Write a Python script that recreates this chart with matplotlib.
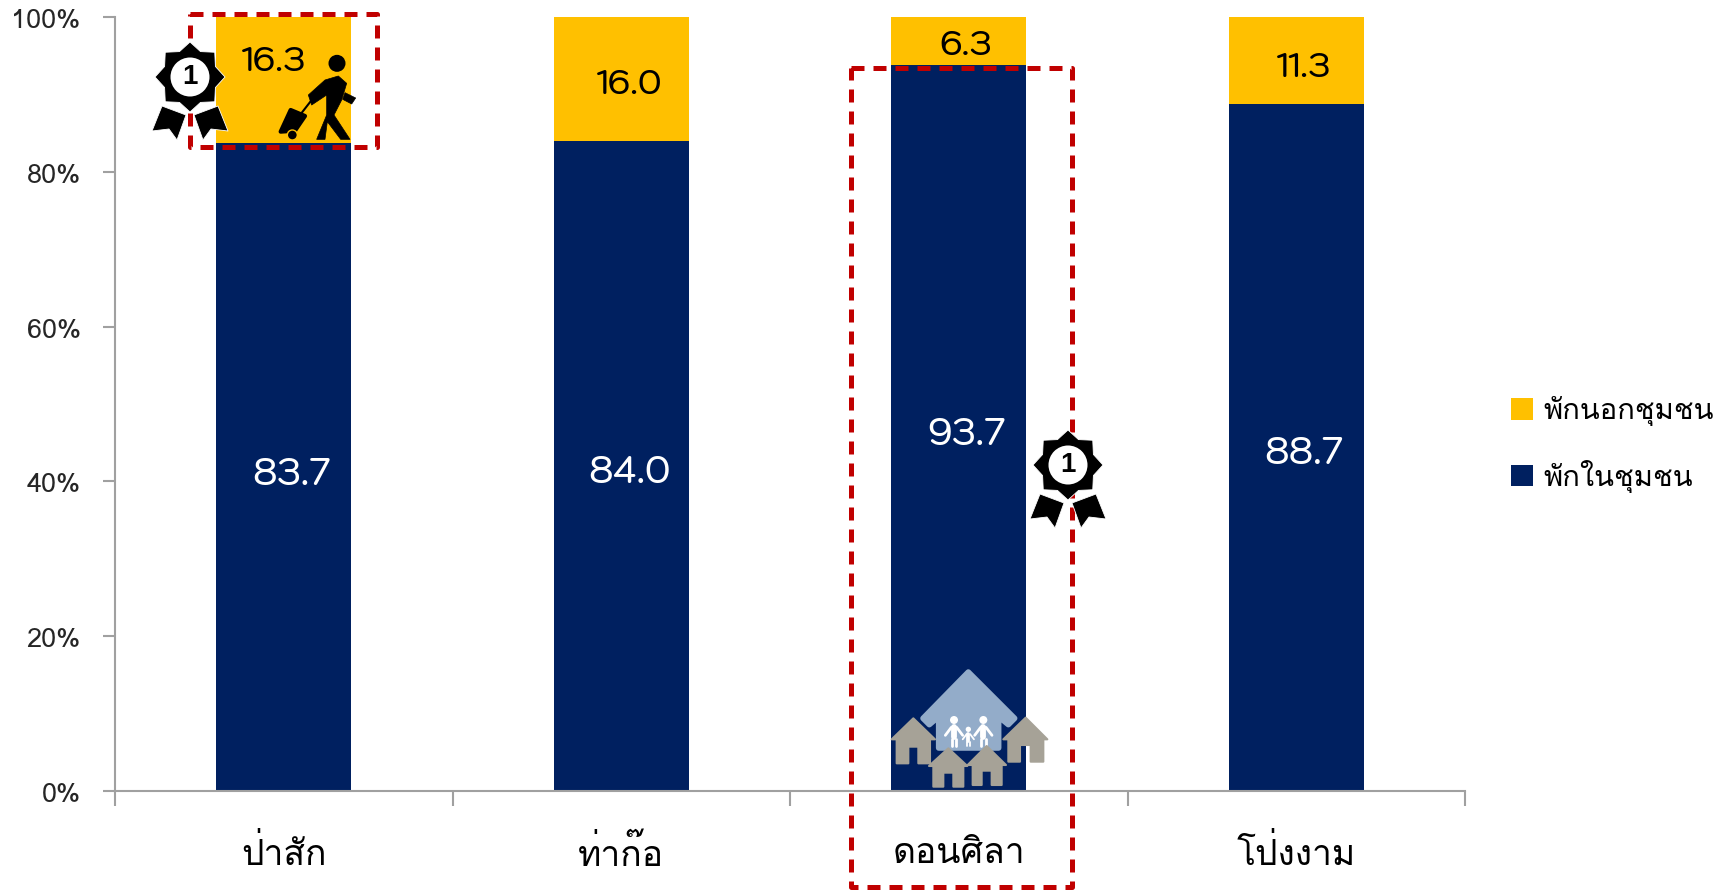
import matplotlib
matplotlib.use("Agg")
from matplotlib import pyplot as plt
from matplotlib.patches import Polygon, Circle, Rectangle
from matplotlib.transforms import ScaledTranslation
import numpy as np

W, H = 1735, 891

categories = ["ป่าสัก", "ท่าก๊อ", "ดอนศิลา", "โป่งงาม"]
inside = [83.7, 84.0, 93.7, 88.7]
outside = [16.3, 16.0, 6.3, 11.3]
series_names = ["พักในชุมชน", "พักนอกชุมชน"]
ytick_values = [0, 20, 40, 60, 80, 100]
ytick_labels = ["0%", "20%", "40%", "60%", "80%", "100%"]

# labels were moved by hand in the original, so they are not centred
inside_label_dx = [0.024, 0.024, 0.024, 0.024]
inside_label_y = [40.7, 40.9, 45.9, 43.4]
outside_label_dx = [-0.03, 0.022, 0.021, 0.021]
outside_label_y = [94.0, 91.0, 96.1, 93.2]

NAVY = "#002060"
YELLOW = "#FFC000"
RED = "#C00000"
GREY = "#A6A297"
BLUE = "#93ACC9"
AXIS = "#A0A0A0"
THAI = ["Loma", "DejaVu Sans"]
DIGITS = ["Kodchasan", "DejaVu Sans"]

plt.rcParams["font.family"] = THAI

fig = plt.figure(figsize=(W / 100, H / 100), dpi=100)
ax = fig.add_axes([115 / W, 1 - 791.3 / H, 1350 / W, (791.3 - 16.7) / H])

x = np.arange(len(categories))
ax.bar(x, inside, width=0.4, color=NAVY, label=series_names[0], zorder=2)
ax.bar(x, outside, width=0.4, bottom=inside, color=YELLOW, label=series_names[1], zorder=2)
ax.set_xlim(-0.5, 3.5)
ax.set_ylim(0, 100)

for i in range(len(categories)):
    ax.text(i + inside_label_dx[i], inside_label_y[i], f"{inside[i]:.1f}", color="white",
            ha="center", va="center", fontsize=26.5, fontweight="medium", family=DIGITS, zorder=3)
    ax.text(i + outside_label_dx[i], outside_label_y[i], f"{outside[i]:.1f}", color="black",
            ha="center", va="center", fontsize=24.5, fontweight="medium", family=DIGITS, zorder=3)

ax.set_yticks(ytick_values)
ax.set_yticklabels(ytick_labels, fontsize=19.5, color="#262626", va="center")
ax.set_xticks(np.arange(-0.5, 4, 1))
ax.set_xticklabels([])
ax.tick_params(axis="y", length=8.6, width=1.5, color=AXIS, pad=16)
ax.tick_params(axis="x", length=11, width=1.5, color=AXIS)
shift = ScaledTranslation(0, -2.9 / 72, fig.dpi_scale_trans)
for lab in ax.get_yticklabels():
    lab.set_transform(lab.get_transform() + shift)
for i, c in enumerate(categories):
    ax.annotate(c, (i, 0), xytext=(0, -45), textcoords="offset points", ha="center", va="center",
                fontsize=25.5, color="black", annotation_clip=False)
for s in ["top", "right"]:
    ax.spines[s].set_visible(False)
for s in ["left", "bottom"]:
    ax.spines[s].set_color(AXIS)
    ax.spines[s].set_linewidth(1.5)

handles, labels = ax.get_legend_handles_labels()
ax.legend(handles[::-1], labels[::-1], loc="center left", bbox_to_anchor=(1.034, 0.448),
          frameon=False, fontsize=21, handlelength=0.75, handleheight=0.75, handletextpad=0.36,
          labelspacing=1.15, borderpad=0, borderaxespad=0)

# overlay in picture pixels for the dashed boxes and the pictograms
ov = fig.add_axes([0, 0, 1, 1])
ov.set_xlim(0, W)
ov.set_ylim(H, 0)
ov.axis("off")
ov.patch.set_alpha(0)


def crop_pts(pts, x0, y0):
    return [(x0 + a / 3, y0 + b / 3) for a, b in pts]


def poly(pts, color, z=5, lw=0, edge=None):
    ov.add_patch(Polygon(pts, closed=True, facecolor=color, edgecolor=edge or color, linewidth=lw,
                         joinstyle="round", zorder=z))


def stroke(pts, color, lw, z=5):
    xs, ys = zip(*pts)
    ov.plot(xs, ys, color=color, linewidth=lw, solid_capstyle="round", solid_joinstyle="round", zorder=z)


def dashed_box(x0, y0, x1, y1):
    ov.add_patch(Rectangle((x0, y0), x1 - x0, y1 - y0, fill=False, edgecolor=RED, linewidth=3.6,
                           linestyle=(0, (2.6, 1.8)), joinstyle="round", capstyle="butt", zorder=6))


def rosette(cx, cy):
    ang = np.deg2rad(np.arange(16) * 22.5 - 90)
    rad = np.where(np.arange(16) % 2 == 0, 35.0, 27.5)
    star = list(zip(cx + rad * np.cos(ang), cy + rad * np.sin(ang)))
    left = [(-28, 29), (-4, 38), (-13, 63), (-21, 52), (-38, 54)]
    right = [(28, 29), (4, 38), (13, 63), (21, 52), (38, 54)]
    for rib in (left, right):
        poly([(cx + a, cy + b) for a, b in rib], "black", z=7, lw=0.6, edge="white")
    poly(star, "black", z=8, lw=0.6, edge="white")
    ov.add_patch(Circle((cx, cy), 19.5, facecolor="white", edgecolor="none", zorder=9))
    ov.text(cx, cy, "1", ha="center", va="center", fontsize=20, fontweight="bold", color="black",
            family=["Liberation Sans"], zorder=10)


def traveller():
    x0, y0 = 130, 0
    ov.add_patch(Circle((130 + 621 / 3, 190 / 3), 8.5, facecolor="black", edgecolor="none", zorder=5))
    body = [(535, 285), (585, 240), (625, 228), (650, 250), (635, 300), (612, 345), (660, 418),
            (632, 418), (592, 365), (585, 418), (560, 418), (590, 345), (590, 285), (545, 315)]
    poly(crop_pts(body, x0, y0), "black", lw=0.5)
    poly(crop_pts([(645, 278), (677, 294), (665, 312), (638, 298)], x0, y0), "black", lw=0.5)
    stroke(crop_pts([(545, 300), (510, 345)], x0, y0), "black", 1.5)
    poly(crop_pts([(482, 330), (525, 348), (495, 392), (452, 395)], x0, y0), "black", lw=3)
    ov.add_patch(Circle((130 + 487 / 3, 405 / 3), 5, facecolor="black", edgecolor=YELLOW, linewidth=1, zorder=6))


def small_house(pts):
    ax_, ay, el, er, ey, bl, br, by, dl, dr, dy = pts
    shape = [(ax_, ay), (er, ey), (br, ey), (br, by), (dr, by), (dr, dy), (dl, dy), (dl, by), (bl, by), (bl, ey), (el, ey)]
    poly(crop_pts(shape, 860, 650), GREY, z=5, lw=1.5)


def houses():
    x0, y0 = 860, 650
    big = [(325, 66), (464, 205), (445, 224), (416, 200), (416, 294), (236, 294), (236, 200), (208, 224), (189, 205)]
    poly(crop_pts(big, x0, y0), BLUE, z=4, lw=4)
    for hx, hr, s in [(282, 12, 1.0), (370, 12, 1.0), (325, 8, 0.65)]:
        hy = 210 if s == 1.0 else 238
        ov.add_patch(Circle((x0 + hx / 3, y0 + hy / 3), hr / 3, facecolor="white", edgecolor="none", zorder=5))
        top = hy + 22 * s
        stroke(crop_pts([(hx, top), (hx, top + 30 * s)], x0, y0), "white", 4.2 * s, z=5)
        stroke(crop_pts([(hx - 7 * s, top + 35 * s), (hx - 7 * s, top + 55 * s)], x0, y0), "white", 2.0 * s, z=5)
        stroke(crop_pts([(hx + 7 * s, top + 35 * s), (hx + 7 * s, top + 55 * s)], x0, y0), "white", 2.0 * s, z=5)
        stroke(crop_pts([(hx - 26 * s, top + 24 * s), (hx - 8 * s, top)], x0, y0), "white", 2.0 * s, z=5)
        stroke(crop_pts([(hx + 26 * s, top + 24 * s), (hx + 8 * s, top)], x0, y0), "white", 2.0 * s, z=5)
    small_house((160, 205, 95, 225, 268, 110, 210, 340, 145, 175, 290))
    small_house((497, 203, 430, 562, 268, 445, 550, 335, 480, 512, 285))
    small_house((265, 295, 207, 322, 348, 220, 310, 410, 250, 280, 368))
    small_house((380, 288, 323, 438, 345, 338, 425, 405, 365, 395, 362))


dashed_box(190, 14, 377, 147)
dashed_box(851, 68, 1072, 887)
traveller()
houses()
rosette(190, 77)
rosette(1068, 465)

fig.savefig("out.png", dpi=100)
